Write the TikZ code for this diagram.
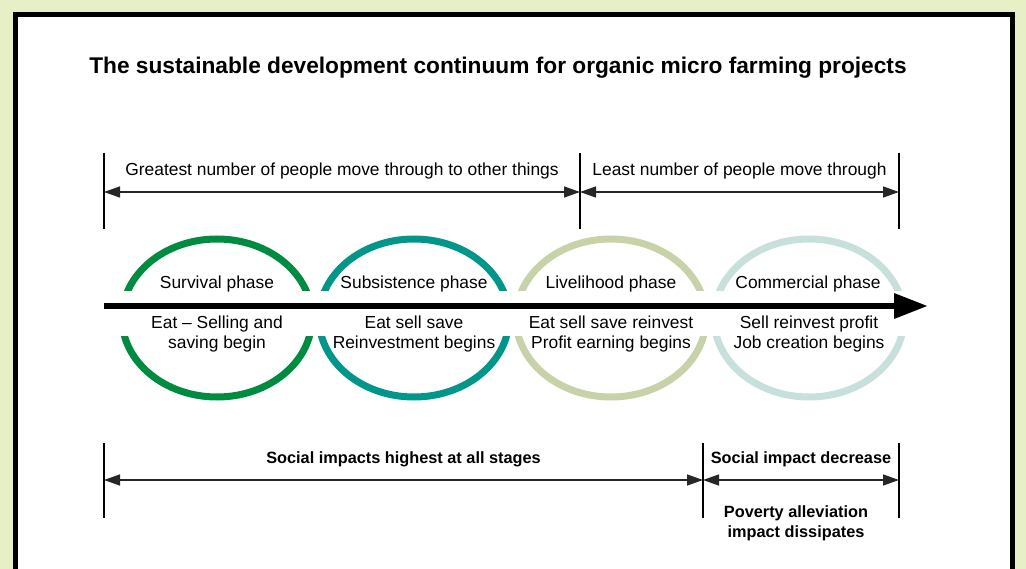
\documentclass[tikz,border=0pt]{standalone}
\usepackage{fontspec}
\setmainfont{Liberation Sans}
\usetikzlibrary{arrows.meta}
\definecolor{bgcol}{HTML}{E6EFC6}
\definecolor{ringA}{HTML}{008C40}
\definecolor{ringB}{HTML}{00968A}
\definecolor{ringC}{HTML}{C8D2A8}
\definecolor{ringD}{HTML}{C8E0DC}
\tikzset{
  body/.style={font=\fontsize{17.4}{20.5}\selectfont, inner sep=0pt, align=center},
  boldtxt/.style={font=\fontsize{16.3}{20}\selectfont\bfseries, inner sep=0pt, align=center},
  ring/.style={line width=7pt},
  tick/.style={line width=1.2pt, black},
  dim/.style={line width=1.3pt, black!85, {Triangle[length=16pt,width=11pt]}-{Triangle[length=16pt,width=11pt]}},
}
\begin{document}
\begin{tikzpicture}[x=1pt,y=-1pt]
\useasboundingbox (0,0) rectangle (1026,569);
\clip (0,0) rectangle (1026,569);
\fill[bgcol] (0,0) rectangle (1026,569);
\draw[line width=5pt, fill=white] (15.5,14.5) rectangle (1012.5,620);
% title
\node[font=\fontsize{22.7}{27}\selectfont\bfseries, inner sep=0pt, anchor=base] (title) at (498,74) {The sustainable development continuum for organic micro farming projects};
% rings
\draw[ring, ringA] (217,318) ellipse [x radius=95, y radius=79];
\draw[ring, ringB] (414,318) ellipse [x radius=95, y radius=79];
\draw[ring, ringC] (611,318) ellipse [x radius=95, y radius=79];
\draw[ring, ringD] (809,318) ellipse [x radius=95, y radius=79];
\fill[white] (100,291) rectangle (915,336);
% main arrow
\coordinate (mstart) at (104,306);
\coordinate (mend) at (928,306);
\draw[line width=6.5pt, -{Triangle[length=34pt,width=24pt]}] (mstart) -- (mend);
% phase labels
\node[body, anchor=base] (p1) at (217,289) {Survival phase};
\node[body, anchor=base] (p2) at (414,289) {Subsistence phase};
\node[body, anchor=base] (p3) at (611,289) {Livelihood phase};
\node[body, anchor=base] (p4) at (808,289) {Commercial phase};
\node[body] (d1) at (217,334) {Eat -- Selling and\\saving begin};
\node[body] (d2) at (414,334) {Eat sell save\\Reinvestment begins};
\node[body] (d3) at (611,334) {Eat sell save reinvest\\Profit earning begins};
\node[body] (d4) at (809,334) {Sell reinvest profit\\Job creation begins};
% top dimension
\coordinate (ta1) at (104,153); \coordinate (ta2) at (104,229);
\coordinate (tb1) at (580,153); \coordinate (tb2) at (580,229);
\coordinate (tc1) at (899,153); \coordinate (tc2) at (899,229);
\draw[tick] (ta1) -- (ta2);
\draw[tick] (tb1) -- (tb2);
\draw[tick] (tc1) -- (tc2);
\coordinate (ta) at (104,192); \coordinate (tb) at (580,192); \coordinate (tc) at (899,192);
\draw[dim] (ta) -- (tb);
\draw[dim] (tb) -- (tc);
\node[body, anchor=base] (t1) at (342,176) {Greatest number of people move through to other things};
\node[body, anchor=base] (t2) at (739.5,176) {Least number of people move through};
% bottom dimension
\coordinate (ba1) at (104,443); \coordinate (ba2) at (104,518);
\coordinate (bb1) at (703,443); \coordinate (bb2) at (703,518);
\coordinate (bc1) at (899,443); \coordinate (bc2) at (899,518);
\draw[tick] (ba1) -- (ba2);
\draw[tick] (bb1) -- (bb2);
\draw[tick] (bc1) -- (bc2);
\coordinate (ba) at (104,480); \coordinate (bb) at (703,480); \coordinate (bc) at (899,480);
\draw[dim] (ba) -- (bb);
\draw[dim] (bb) -- (bc);
\node[boldtxt, anchor=base] (s1) at (403.5,463) {Social impacts highest at all stages};
\node[boldtxt, anchor=base] (s2) at (801,463) {Social impact decrease};
\node[boldtxt] (s3) at (796,523) {Poverty alleviation\\impact dissipates};
\end{tikzpicture}
\end{document}
